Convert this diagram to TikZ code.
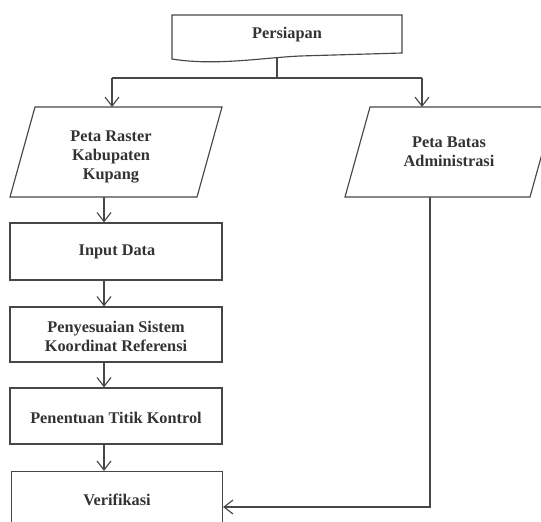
\documentclass[tikz,border=0pt]{standalone}
\usepackage{fontspec}
\setmainfont{Liberation Serif}
\usetikzlibrary{arrows.meta,calc}
\begin{document}
\begin{tikzpicture}[x=1pt,y=-1pt,
  line/.style={draw=black!72,line width=1.15pt},
  arr/.style={line,-{Straight Barb[length=9pt,width=14pt,line width=1.15pt]}},
  boxnode/.style={line,rectangle,minimum width=212pt,align=center,inner sep=0pt},
  txt/.style={font=\fontsize{16.3}{19}\selectfont\bfseries,text=black!80,align=center,inner sep=0pt}]
\useasboundingbox (0,0) rectangle (541,522);
% Persiapan document shape
\path[line] (172,15) -- (402,15) -- (402,53) -- (300,56) .. controls (260,58) and (215,66) .. (172,59) -- cycle;
\node[txt] (persiapan) at (287,35) {Persiapan};
\coordinate (stemtop) at (277,58);
\coordinate (split) at (277,78);
\coordinate (splitL) at (112,78);
\coordinate (splitR) at (422,78);
% left parallelogram
\path[line] (10,197) -- (197,197) -- (222,107) -- (35,107) -- cycle;
\node[txt] (raster) at (111,157) {Peta Raster\\Kabupaten\\Kupang};
\coordinate (rasterTop) at (112,107);
\coordinate (rasterBot) at (104,197);
% right parallelogram
\path[line] (345,197) -- (530,197) -- (555,107) -- (370,107) -- cycle;
\node[txt] (batas) at (449,152) {Peta Batas\\Administrasi};
\coordinate (batasTop) at (422,107);
\coordinate (batasBot) at (430,197);
\coordinate (corner) at (430,507);
% boxes
\node[boxnode,minimum height=57pt] (input) at (116,251.5) {};
\node[txt] at (117,252) {Input Data};
\node[boxnode,minimum height=55pt] (sesuai) at (116,334.5) {};
\node[txt] at (116,336) {Penyesuaian Sistem\\Koordinat Referensi};
\node[boxnode,minimum height=56pt] (titik) at (116,416) {};
\node[txt] at (116,418) {Penentuan Titik Kontrol};
\node[boxnode,minimum width=211pt,minimum height=80pt] (verif) at (117,511.5) {};
\node[txt] at (117,500) {Verifikasi};
% connectors
\draw[line] (stemtop) -- (split);
\draw[line] (splitL) -- (splitR);
\draw[arr] (splitL) -- (rasterTop);
\draw[arr] (splitR) -- (batasTop);
\draw[arr] (rasterBot) -- (rasterBot |- input.north);
\draw[arr] (rasterBot |- input.south) -- (rasterBot |- sesuai.north);
\draw[arr] (rasterBot |- sesuai.south) -- (rasterBot |- titik.north);
\draw[arr] (rasterBot |- titik.south) -- (rasterBot |- verif.north);
\draw[arr] (batasBot) -- (corner) -- (corner -| verif.east);
\end{tikzpicture}
\end{document}
